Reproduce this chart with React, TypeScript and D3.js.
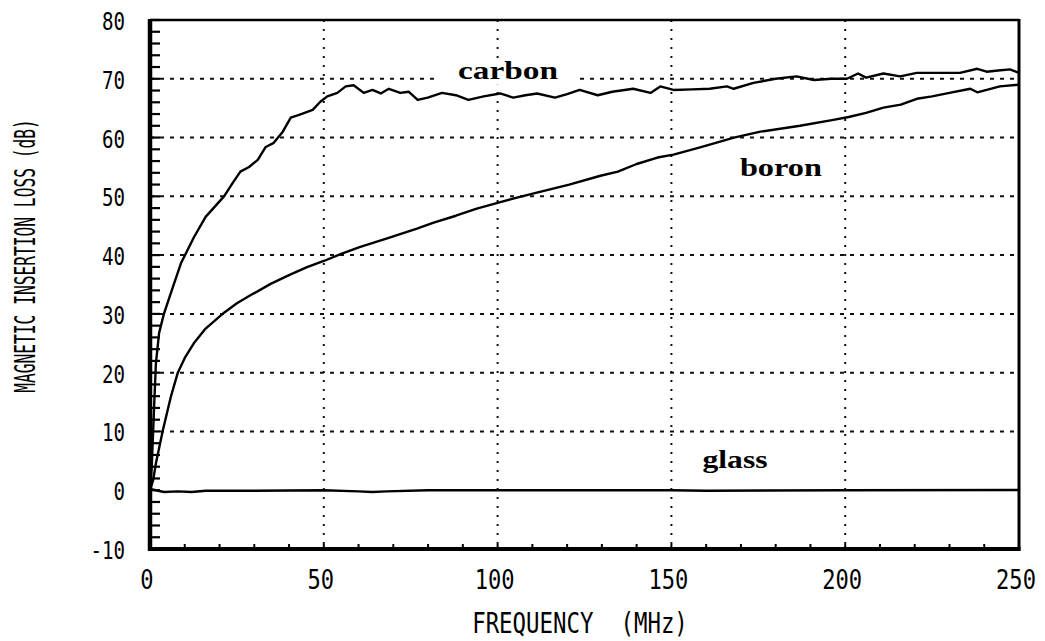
import React from "react";
import * as d3 from "d3";

const W = 1045;
const H = 641;

const xTicks = [0, 50, 100, 150, 200, 250];
const yTicks = [-10, 0, 10, 20, 30, 40, 50, 60, 70, 80];
const xGrid = [50, 100, 150, 200];
const yGrid = [10, 20, 30, 40, 50, 60, 70];

const xTitle = "FREQUENCY  (MHz)";
const yTitle = "MAGNETIC INSERTION LOSS (dB)";

// [frequency MHz, loss dB]
const carbon: [number, number][] = [
  [0, 0], [0.5, 4], [1.1, 13], [1.7, 21.6], [2.6, 26.7], [4.0, 30], [6.6, 34.6],
  [8.9, 38.6], [12.6, 43], [16, 46.5], [21.3, 50], [23.8, 52.3], [26, 54.2],
  [28.5, 55.0], [31, 56.2], [33.3, 58.4], [35.6, 59.1], [38.2, 61], [40.5, 63.4],
  [43.5, 64.0], [46.8, 64.7], [49, 66.1], [51, 67], [53.9, 67.6], [56.3, 68.7],
  [58.6, 68.9], [61.5, 67.6], [64, 68.1], [66.4, 67.5], [68.7, 68.3], [72, 67.6],
  [74.4, 67.8], [77, 66.4], [79.9, 66.8], [84, 67.6], [88, 67.2], [91.6, 66.4],
  [96, 67.0], [100.7, 67.5], [104.5, 66.8], [108, 67.2], [111.4, 67.5], [116.5, 66.8],
  [120, 67.4], [123.6, 68.1], [128.8, 67.2], [133, 67.8], [139, 68.3], [144, 67.6],
  [146.8, 68.7], [150.6, 68.1], [156, 68.2], [161, 68.3], [166, 68.7], [167.9, 68.3],
  [173.6, 69.3], [180, 70.0], [186, 70.4], [191, 69.8], [196, 70.0], [200.5, 70.0],
  [203.7, 70.9], [206, 70.2], [211, 70.9], [215.8, 70.4], [220.6, 71.0], [225, 71.0],
  [230, 71.0], [233, 71.0], [238, 71.7], [240.7, 71.2], [244, 71.4], [247.4, 71.6],
  [250, 71.0],
];

const boron: [number, number][] = [
  [0, 0], [0.9, 1.7], [1.7, 4.6], [3.7, 10.2], [6, 15.9], [8, 20], [10, 22.5],
  [12.6, 25], [16, 27.5], [21.3, 30.2], [25, 31.8], [29, 33.2], [34.7, 35.1],
  [40, 36.6], [45, 37.9], [50, 39], [55, 40.2], [60.5, 41.4], [68, 42.8],
  [76.8, 44.5], [81.4, 45.5], [88, 46.7], [94, 47.9], [100, 48.9], [105, 49.7],
  [111, 50.6], [120.6, 52], [129.6, 53.5], [134.6, 54.2], [140, 55.5], [146, 56.6],
  [150.6, 57.1], [158, 58.3], [168, 60.0], [175.6, 61.0], [187, 62.0], [196.6, 63.0],
  [201, 63.5], [206, 64.2], [211, 65.1], [216, 65.6], [220.6, 66.6], [225, 67.0],
  [230, 67.6], [236, 68.3], [238, 67.7], [244.5, 68.7], [250, 69.0],
];

const glass: [number, number][] = [
  [0, 0.2], [4, -0.3], [8, -0.2], [12, -0.3], [16, -0.1], [30, -0.1], [50, 0],
  [60, -0.2], [64, -0.3], [68, -0.2], [80, 0], [100, 0], [150, 0], [160, -0.1],
  [200, 0], [250, 0.05],
];

const labels = [
  { text: "carbon", f: 103, v: 70.0, len: 100, knockout: true },
  { text: "boron", f: 181.5, v: 53.5, len: 82, knockout: false },
  { text: "glass", f: 168.3, v: 3.7, len: 65, knockout: false },
];

export default function App() {
  const left = 150;
  const right = 1019;
  const top = 20;
  const bottom = 549;

  const x = d3.scaleLinear().domain([0, 250]).range([left, right]);
  const y = d3.scaleLinear().domain([-10, 80]).range([bottom, top]);

  const line = d3
    .line<[number, number]>()
    .x((d) => x(d[0]))
    .y((d) => y(d[1]));

  const leftMinor = d3.range(-10, 81, 2);
  const bottomMinor = d3.range(0, 251, 10);

  const mono = "'DejaVu Sans Mono', monospace";

  return (
    <svg width={W} height={H} style={{ position: "absolute", left: 0, top: 0, background: "#fff" }}>
      <rect x={0} y={0} width={W} height={H} fill="#fff" />
      {/* horizontal grid */}
      {yGrid.map((v) => (
        <line
          key={"hg" + v}
          x1={left}
          x2={right}
          y1={y(v)}
          y2={y(v)}
          stroke="#111"
          strokeWidth={2}
          strokeDasharray="4,6"
        />
      ))}
      {/* vertical grid */}
      {xGrid.map((f) => (
        <line
          key={"vg" + f}
          x1={x(f)}
          x2={x(f)}
          y1={top}
          y2={bottom}
          stroke="#111"
          strokeWidth={2}
          strokeDasharray="2,7"
        />
      ))}
      {/* label knockouts */}
      {labels
        .filter((l) => l.knockout)
        .map((l) => (
          <rect
            key={"ko" + l.text}
            x={x(l.f) - l.len / 2 - 22}
            y={y(l.v) - 20}
            width={l.len + 44}
            height={26}
            fill="#fff"
          />
        ))}
      {/* minor ticks */}
      {leftMinor.map((v) => (
        <line key={"lt" + v} x1={left} x2={left + 10} y1={y(v)} y2={y(v)} stroke="#000" strokeWidth={2.2} />
      ))}
      {bottomMinor.map((f) => (
        <line key={"bt" + f} x1={x(f)} x2={x(f)} y1={bottom} y2={bottom - 5} stroke="#000" strokeWidth={2} />
      ))}
      {/* data */}
      <path d={line(glass) || ""} fill="none" stroke="#000" strokeWidth={2.4} />
      <path d={line(boron) || ""} fill="none" stroke="#000" strokeWidth={2.4} strokeLinejoin="round" />
      <path d={line(carbon) || ""} fill="none" stroke="#000" strokeWidth={2.4} strokeLinejoin="round" />
      {/* frame */}
      <line x1={left} x2={right} y1={top} y2={top} stroke="#000" strokeWidth={2.5} />
      <line x1={left} x2={right + 1.5} y1={bottom} y2={bottom} stroke="#000" strokeWidth={4} />
      <line x1={left} x2={left} y1={top - 1} y2={bottom + 2} stroke="#000" strokeWidth={4.5} />
      <line x1={right} x2={right} y1={top - 1} y2={bottom + 2} stroke="#000" strokeWidth={3} />
      {/* y tick labels */}
      {yTicks.map((v) => {
        const s = String(v);
        return (
          <text
            key={"yl" + v}
            x={125}
            y={y(v) + 10}
            textAnchor="end"
            fontFamily={mono}
            fontSize={24}
            textLength={s.length * 11.5}
            lengthAdjust="spacingAndGlyphs"
            fill="#000"
          >
            {s}
          </text>
        );
      })}
      {/* x tick labels */}
      {xTicks.map((f) => {
        const s = String(f);
        return (
          <text
            key={"xl" + f}
            x={x(f) - 3}
            y={589}
            textAnchor="middle"
            fontFamily={mono}
            fontSize={27}
            textLength={s.length * 13.3}
            lengthAdjust="spacingAndGlyphs"
            fill="#000"
          >
            {s}
          </text>
        );
      })}
      {/* axis titles */}
      <text
        transform="translate(580,633) scale(0.8,1)"
        textAnchor="middle"
        fontFamily={mono}
        fontSize={28}
        fill="#000"
        style={{ whiteSpace: "pre" }}
      >
        {xTitle}
      </text>
      <text
        transform="translate(35,256) rotate(-90) scale(0.58,1)"
        textAnchor="middle"
        fontFamily={mono}
        fontSize={28}
        fill="#000"
      >
        {yTitle}
      </text>
      {/* series labels */}
      {labels.map((l) => (
        <text
          key={l.text}
          x={x(l.f)}
          y={y(l.v)}
          textAnchor="middle"
          fontFamily="'Liberation Serif', 'DejaVu Serif', serif"
          fontWeight="bold"
          fontSize={26}
          textLength={l.len}
          lengthAdjust="spacingAndGlyphs"
          fill="#000"
        >
          {l.text}
        </text>
      ))}
    </svg>
  );
}
